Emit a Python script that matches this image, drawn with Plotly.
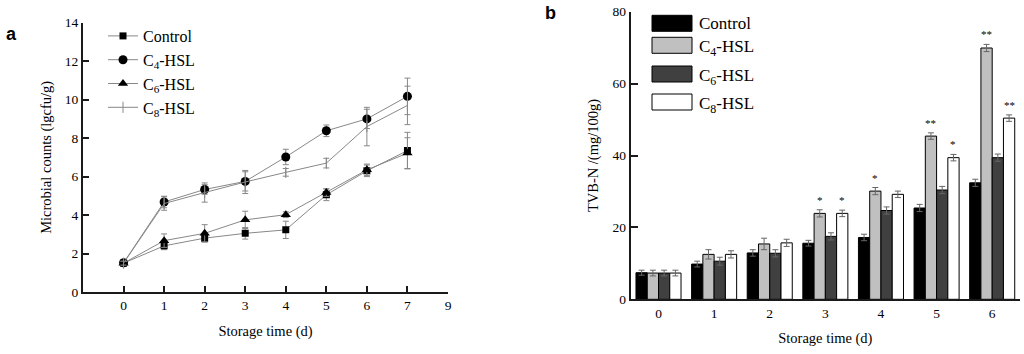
import plotly.graph_objects as go

W, H = 1024, 354

# ---------------- data: panel a (microbial counts) ----------------
days_a = [0, 1, 2, 3, 4, 5, 6, 7]
ctrl_a = [1.5, 2.4, 2.8, 3.05, 3.23, 5.05, 6.3, 7.35]
c4_a = [1.52, 4.68, 5.33, 5.75, 7.02, 8.38, 9.0, 10.17]
c6_a = [1.5, 2.67, 3.05, 3.75, 4.02, 5.17, 6.35, 7.22]
c8_a = [1.5, 4.6, 5.17, 5.72, 6.22, 6.7, 8.6, 9.7]
ctrl_a_err = [0.1, 0.2, 0.2, 0.3, 0.45, 0.3, 0.3, 0.95]
c4_a_err = [0.1, 0.3, 0.25, 0.5, 0.4, 0.3, 0.5, 0.95]
c6_a_err = [0.1, 0.35, 0.45, 0.45, 0.15, 0.2, 0.3, 0.8]
c8_a_err = [0.1, 0.35, 0.5, 0.6, 0.2, 0.25, 1.0, 1.0]
xtick_vals_a = [0, 1, 2, 3, 4, 5, 6, 7, 8]
xtick_text_a = ["0", "1", "2", "3", "4", "5", "6", "7", "9"]

# ---------------- data: panel b (TVB-N) ----------------
days_b = [0, 1, 2, 3, 4, 5, 6]
ctrl_b = [7.4, 9.8, 12.9, 15.6, 17.2, 25.4, 32.4]
c4_b = [7.3, 12.5, 15.4, 23.9, 30.1, 45.4, 69.9]
c6_b = [7.3, 10.6, 12.8, 17.5, 24.7, 30.4, 39.4]
c8_b = [7.3, 12.5, 15.7, 23.9, 29.2, 39.4, 50.4]
ctrl_b_err = [0.7, 0.8, 0.9, 0.8, 0.9, 1.0, 1.0]
c4_b_err = [0.8, 1.3, 1.6, 1.0, 1.0, 0.9, 1.0]
c6_b_err = [0.8, 1.1, 1.0, 1.0, 1.0, 1.0, 1.0]
c8_b_err = [0.8, 1.0, 1.0, 0.9, 0.9, 0.9, 0.9]
sig_c4 = ["", "", "", "*", "*", "**", "**"]
sig_c8 = ["", "", "", "*", "", "*", "**"]

names = ["Control", "C<sub>4</sub>-HSL", "C<sub>6</sub>-HSL", "C<sub>8</sub>-HSL"]
bar_colors = ["#000000", "#c0c0c0", "#404040", "#ffffff"]

SERIF = "Liberation Serif, Times New Roman, serif"
SANS = "Liberation Sans, Arial, sans-serif"
LINE = "#888888"
AX = "#1a1a1a"


def px_x(p):
    return p / W


def px_y(p):
    return 1 - p / H


fig = go.Figure()

# ---------- panel a traces ----------
series_a = [
    (ctrl_a, ctrl_a_err, dict(symbol="square", size=7, color="black")),
    (c4_a, c4_a_err, dict(symbol="circle", size=9, color="black")),
    (c6_a, c6_a_err, dict(symbol="triangle-up", size=9, color="black")),
    (c8_a, c8_a_err, dict(symbol="line-ns", size=8, color=LINE, line=dict(width=1, color=LINE))),
]
for (vals, errs, mk), nm in zip(series_a, names):
    fig.add_trace(go.Scatter(
        x=days_a, y=vals, name=nm, mode="lines+markers",
        line=dict(color=LINE, width=1), marker=mk,
        error_y=dict(type="data", array=errs, visible=True, color=LINE, thickness=1, width=3),
        xaxis="x", yaxis="y", legend="legend",
    ))

# ---------- panel b traces ----------
series_b = [(ctrl_b, ctrl_b_err), (c4_b, c4_b_err), (c6_b, c6_b_err), (c8_b, c8_b_err)]
for (vals, errs), nm, col in zip(series_b, names, bar_colors):
    fig.add_trace(go.Bar(
        x=days_b, y=vals, name=nm, showlegend=False,
        marker=dict(color=col, line=dict(color="black", width=1)),
        error_y=dict(type="data", array=errs, visible=True, color="#666666", thickness=1, width=3),
        xaxis="x2", yaxis="y2",
    ))

BARGAP = 0.19
nser = len(series_b)
bw = (1 - BARGAP) / nser
annotations = []
for k, (vals, errs, sig) in enumerate([(c4_b, c4_b_err, sig_c4), (c8_b, c8_b_err, sig_c8)]):
    idx = 1 if k == 0 else 3
    off = (idx - (nser - 1) / 2) * bw
    for d, v, e, s in zip(days_b, vals, errs, sig):
        if s:
            annotations.append(dict(
                x=d + off, y=v + e, xref="x2", yref="y2", text=s, showarrow=False,
                yanchor="bottom", yshift=2, font=dict(family=SERIF, size=11, color="black"),
            ))

# ---------- custom legend for panel b ----------
shapes = []
leg_y = [23.3, 45.3, 74.0, 102.0]
for nm, col, yc in zip(names, bar_colors, leg_y):
    shapes.append(dict(
        type="rect", xref="paper", yref="paper",
        x0=px_x(652), x1=px_x(692), y0=px_y(yc + 8), y1=px_y(yc - 8),
        fillcolor=col, line=dict(color="black", width=1),
    ))
    annotations.append(dict(
        x=px_x(697), y=px_y(yc + (3 if "sub" in nm else 0)), xref="paper", yref="paper",
        text=nm, showarrow=False, xanchor="left", yanchor="middle",
        font=dict(family=SERIF, size=17, color="black"),
    ))

# panel labels
annotations.append(dict(x=px_x(4), y=px_y(34), xref="paper", yref="paper", text="<b>a</b>",
                        showarrow=False, xanchor="left", yanchor="middle",
                        font=dict(family=SANS, size=18, color="black")))
annotations.append(dict(x=px_x(543), y=px_y(13), xref="paper", yref="paper", text="<b>b</b>",
                        showarrow=False, xanchor="left", yanchor="middle",
                        font=dict(family=SANS, size=18, color="black")))

tickfont = dict(family=SERIF, size=13.5, color="black")
titlefont = dict(family=SERIF, size=14.5, color="black")
common = dict(showgrid=False, zeroline=False, showline=True, linewidth=2, linecolor=AX,
              tickfont=tickfont, automargin=False)

fig.update_layout(
    width=W, height=H,
    margin=dict(l=0, r=0, t=0, b=0),
    paper_bgcolor="white", plot_bgcolor="white",
    barmode="group", bargap=BARGAP, bargroupgap=0,
    xaxis=dict(domain=[px_x(83), px_x(448)], range=[-1, 8], tickvals=xtick_vals_a,
               ticktext=xtick_text_a, ticks="inside", ticklen=6, tickwidth=2, tickcolor=AX,
               title=dict(text="Storage time (d)", font=titlefont, standoff=14),
               anchor="y", **common),
    yaxis=dict(domain=[px_y(292), px_y(22.7)], range=[0, 14], dtick=2, ticks="inside",
               ticklen=6, tickwidth=2, tickcolor=AX,
               title=dict(text="Microbial counts (lgcfu/g)", font=titlefont, standoff=10),
               anchor="x", **common),
    xaxis2=dict(domain=[px_x(630.7), px_x(1020)], range=[-0.5, 6.5], tickvals=days_b,
                ticks="", title=dict(text="Storage time (d)", font=titlefont, standoff=13),
                anchor="y2", **common),
    yaxis2=dict(domain=[px_y(299.3), px_y(11.7)], range=[0, 80], dtick=20, ticks="inside",
                ticklen=7, tickwidth=2, tickcolor=AX,
                title=dict(text="TVB-N /(mg/100g)", font=titlefont, standoff=10),
                anchor="x2", **common),
    legend=dict(x=px_x(103), y=px_y(19), xanchor="left", yanchor="top",
                font=dict(family=SERIF, size=16, color="black"), bgcolor="rgba(0,0,0,0)",
                borderwidth=0, tracegroupgap=0, itemwidth=30),
    annotations=annotations,
    shapes=shapes,
)

fig.write_html(
    "out.html",
    config={"displayModeBar": False},
    post_script="document.body.style.margin='0';document.body.style.overflow='hidden';",
)
